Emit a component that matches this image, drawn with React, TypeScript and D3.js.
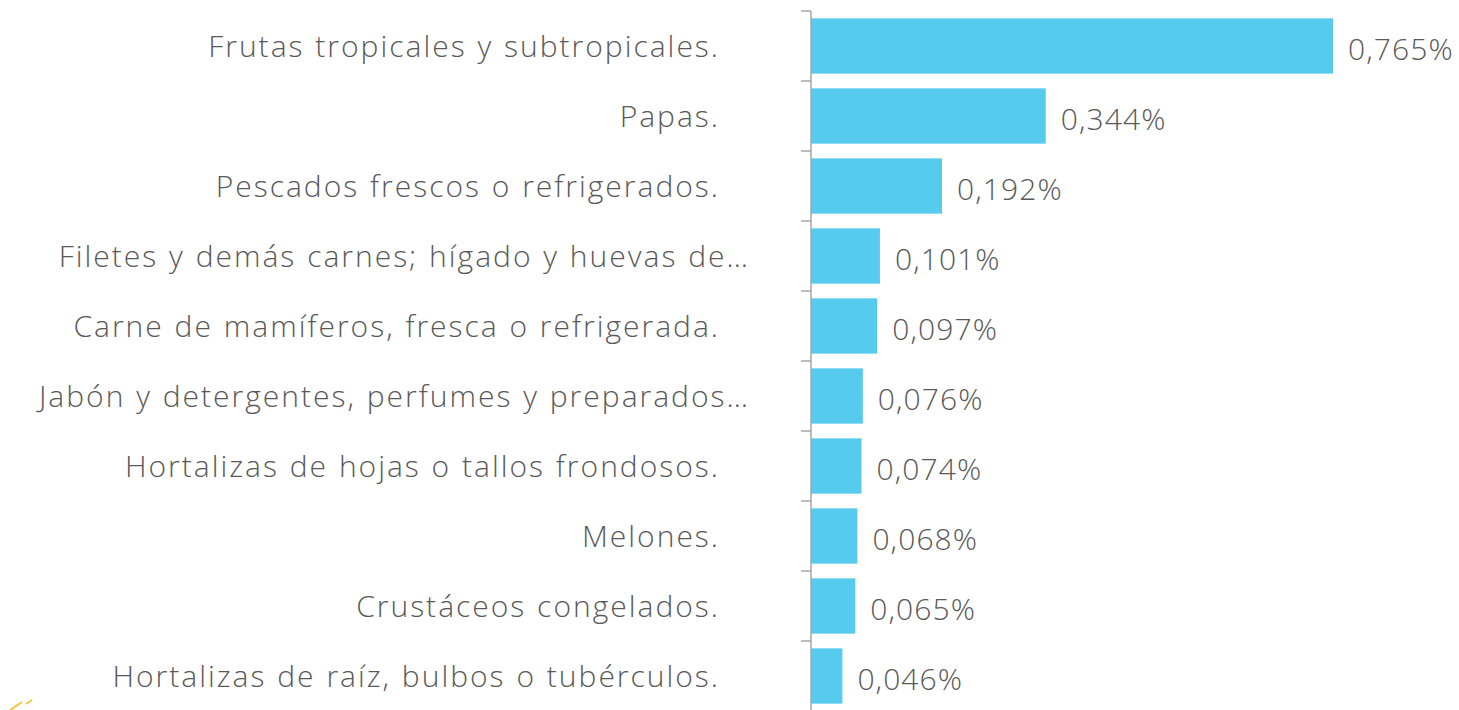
import React from "react";
import * as d3 from "d3";

const categories = [
  "Frutas tropicales y subtropicales.",
  "Papas.",
  "Pescados frescos o refrigerados.",
  "Filetes y demás carnes; hígado y huevas de…",
  "Carne de mamíferos, fresca o refrigerada.",
  "Jabón y detergentes, perfumes y preparados…",
  "Hortalizas de hojas o tallos frondosos.",
  "Melones.",
  "Crustáceos congelados.",
  "Hortalizas de raíz, bulbos o tubérculos.",
];
const values = [0.765, 0.344, 0.192, 0.101, 0.097, 0.076, 0.074, 0.068, 0.065, 0.046];
const valueLabels = ["0,765%", "0,344%", "0,192%", "0,101%", "0,097%", "0,076%", "0,074%", "0,068%", "0,065%", "0,046%"];

const W = 1459;
const H = 710;
const axisX = 811;
const top = 11;
const bottom = 711;
const barColor = "#56CBEF";
const textColor = "#595959";
const font = "'Open Sans', sans-serif";

export default function App() {
  const y = d3.scaleBand<string>().domain(categories).range([top, bottom]).paddingInner(0.21).paddingOuter(0.105);
  const x = d3.scaleLinear().domain([0, 0.765]).range([axisX, 1333]);
  const band = (bottom - top) / categories.length;
  const ticks = d3.range(categories.length + 1).map((i) => top + i * band);

  return (
    <svg width={W} height={H} style={{ position: "absolute", left: 0, top: 0, background: "#fff" }}>
      {categories.map((c, i) => {
        const yy = y(c)!;
        const cy = yy + y.bandwidth() / 2;
        return (
          <g key={c}>
            <rect x={axisX} y={yy} width={x(values[i]) - axisX} height={y.bandwidth()} fill={barColor} />
            <text
              x={x(values[i]) + 15}
              y={cy + 13.5}
              fontFamily={font}
              fontSize={30}
              fontWeight={300}
              letterSpacing={1.1}
              fill={textColor}
            >
              {valueLabels[i]}
            </text>
            <text
              x={c.endsWith("…") ? 750 : 720}
              y={cy + 10.5}
              textAnchor="end"
              fontFamily={font}
              fontSize={30}
              fontWeight={300}
              letterSpacing={2}
              wordSpacing={1}
              fill={textColor}
            >
              {c}
            </text>
          </g>
        );
      })}
      <line x1={axisX} x2={axisX} y1={top} y2={H} stroke="#A6A6A6" strokeWidth={1.5} />
      {ticks.map((t, i) => (
        <line key={i} x1={axisX - 10} x2={axisX} y1={t} y2={t} stroke="#A6A6A6" strokeWidth={1.5} />
      ))}
      <path d="M10,710 L22,702 M26,704 L32,700" stroke="#F5C242" strokeWidth={2} fill="none" />
    </svg>
  );
}
